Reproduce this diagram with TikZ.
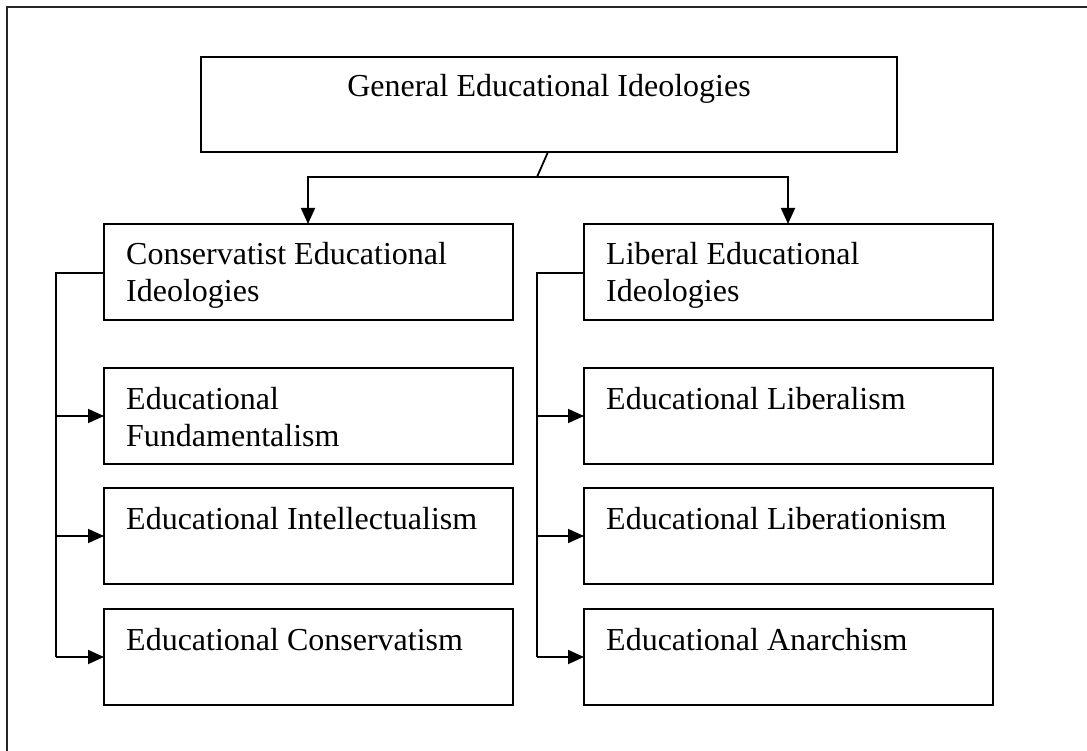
\documentclass[tikz,border=0pt]{standalone}
\usepackage{fontspec}
\setmainfont{Liberation Serif}
\usetikzlibrary{arrows.meta}
\begin{document}
\begin{tikzpicture}[x=1pt,y=-1pt,
  box/.style={draw, line width=1.8pt, rectangle, inner sep=0pt, outer sep=0pt, anchor=north west,
              minimum width=409pt, minimum height=96pt},
  lbl/.style={anchor=base west, inner sep=0pt, align=left, font=\fontsize{32}{37}\selectfont},
  conn/.style={line width=1.8pt},
  arr/.style={conn, -{Triangle[length=16pt,width=14pt]}},
  frame/.style={line width=2.2pt, draw=black!85}]
\useasboundingbox (0,0) rectangle (1087,751);
% page frame
\coordinate (fTR) at (1090,7);
\coordinate (fTL) at (7,7);
\coordinate (fBL) at (7,755);
\draw[frame] (fTR) -- (fTL) -- (fBL);

% root
\node[box, minimum width=696pt, minimum height=95pt] (root) at (201,57) {};
\node[anchor=base, inner sep=0pt, font=\fontsize{32}{37}\selectfont] (rootT) at (549,97) {General Educational Ideologies};

% column headers (two-line labels are placed by their last baseline)
\node[box] (cons) at (104,224) {};
\node[lbl] (consT) at (126,302) {Conservatist Educational\\Ideologies};
\node[box] (lib) at (584,224) {};
\node[lbl] (libT) at (606,302) {Liberal Educational\\Ideologies};

% left column
\node[box] (c1) at (104,368) {};
\node[lbl] (c1T) at (126,446) {Educational\\Fundamentalism};
\node[box] (c2) at (104,488) {};
\node[lbl] (c2T) at (126,529) {Educational Intellectualism};
\node[box] (c3) at (104,609) {};
\node[lbl] (c3T) at (126,650) {Educational Conservatism};

% right column
\node[box] (l1) at (584,368) {};
\node[lbl] (l1T) at (606,409) {Educational Liberalism};
\node[box] (l2) at (584,488) {};
\node[lbl] (l2T) at (606,529) {Educational Liberationism};
\node[box] (l3) at (584,609) {};
\node[lbl] (l3T) at (606,650) {Educational Anarchism};

% root split
\coordinate (split) at (537,177);
\coordinate (rootFoot) at (548,152);
\draw[conn] (rootFoot) -- (split);
\coordinate (consIn) at (308,177);
\coordinate (libIn) at (788,177);
\draw[arr] (split) -- (consIn) -- (cons.north -| consIn);
\draw[arr] (split) -- (libIn) -- (lib.north -| libIn);

% left bracket
\coordinate (cb) at (56,273);
\draw[conn] (cons.west |- cb) -- (cb) -- (c3.west -| cb);
\draw[arr] (c1.west -| cb) -- (c1.west);
\draw[arr] (c2.west -| cb) -- (c2.west);
\draw[arr] (c3.west -| cb) -- (c3.west);

% right bracket
\coordinate (lb) at (537,273);
\draw[conn] (lib.west |- lb) -- (lb) -- (l3.west -| lb);
\draw[arr] (l1.west -| lb) -- (l1.west);
\draw[arr] (l2.west -| lb) -- (l2.west);
\draw[arr] (l3.west -| lb) -- (l3.west);
\end{tikzpicture}
\end{document}
